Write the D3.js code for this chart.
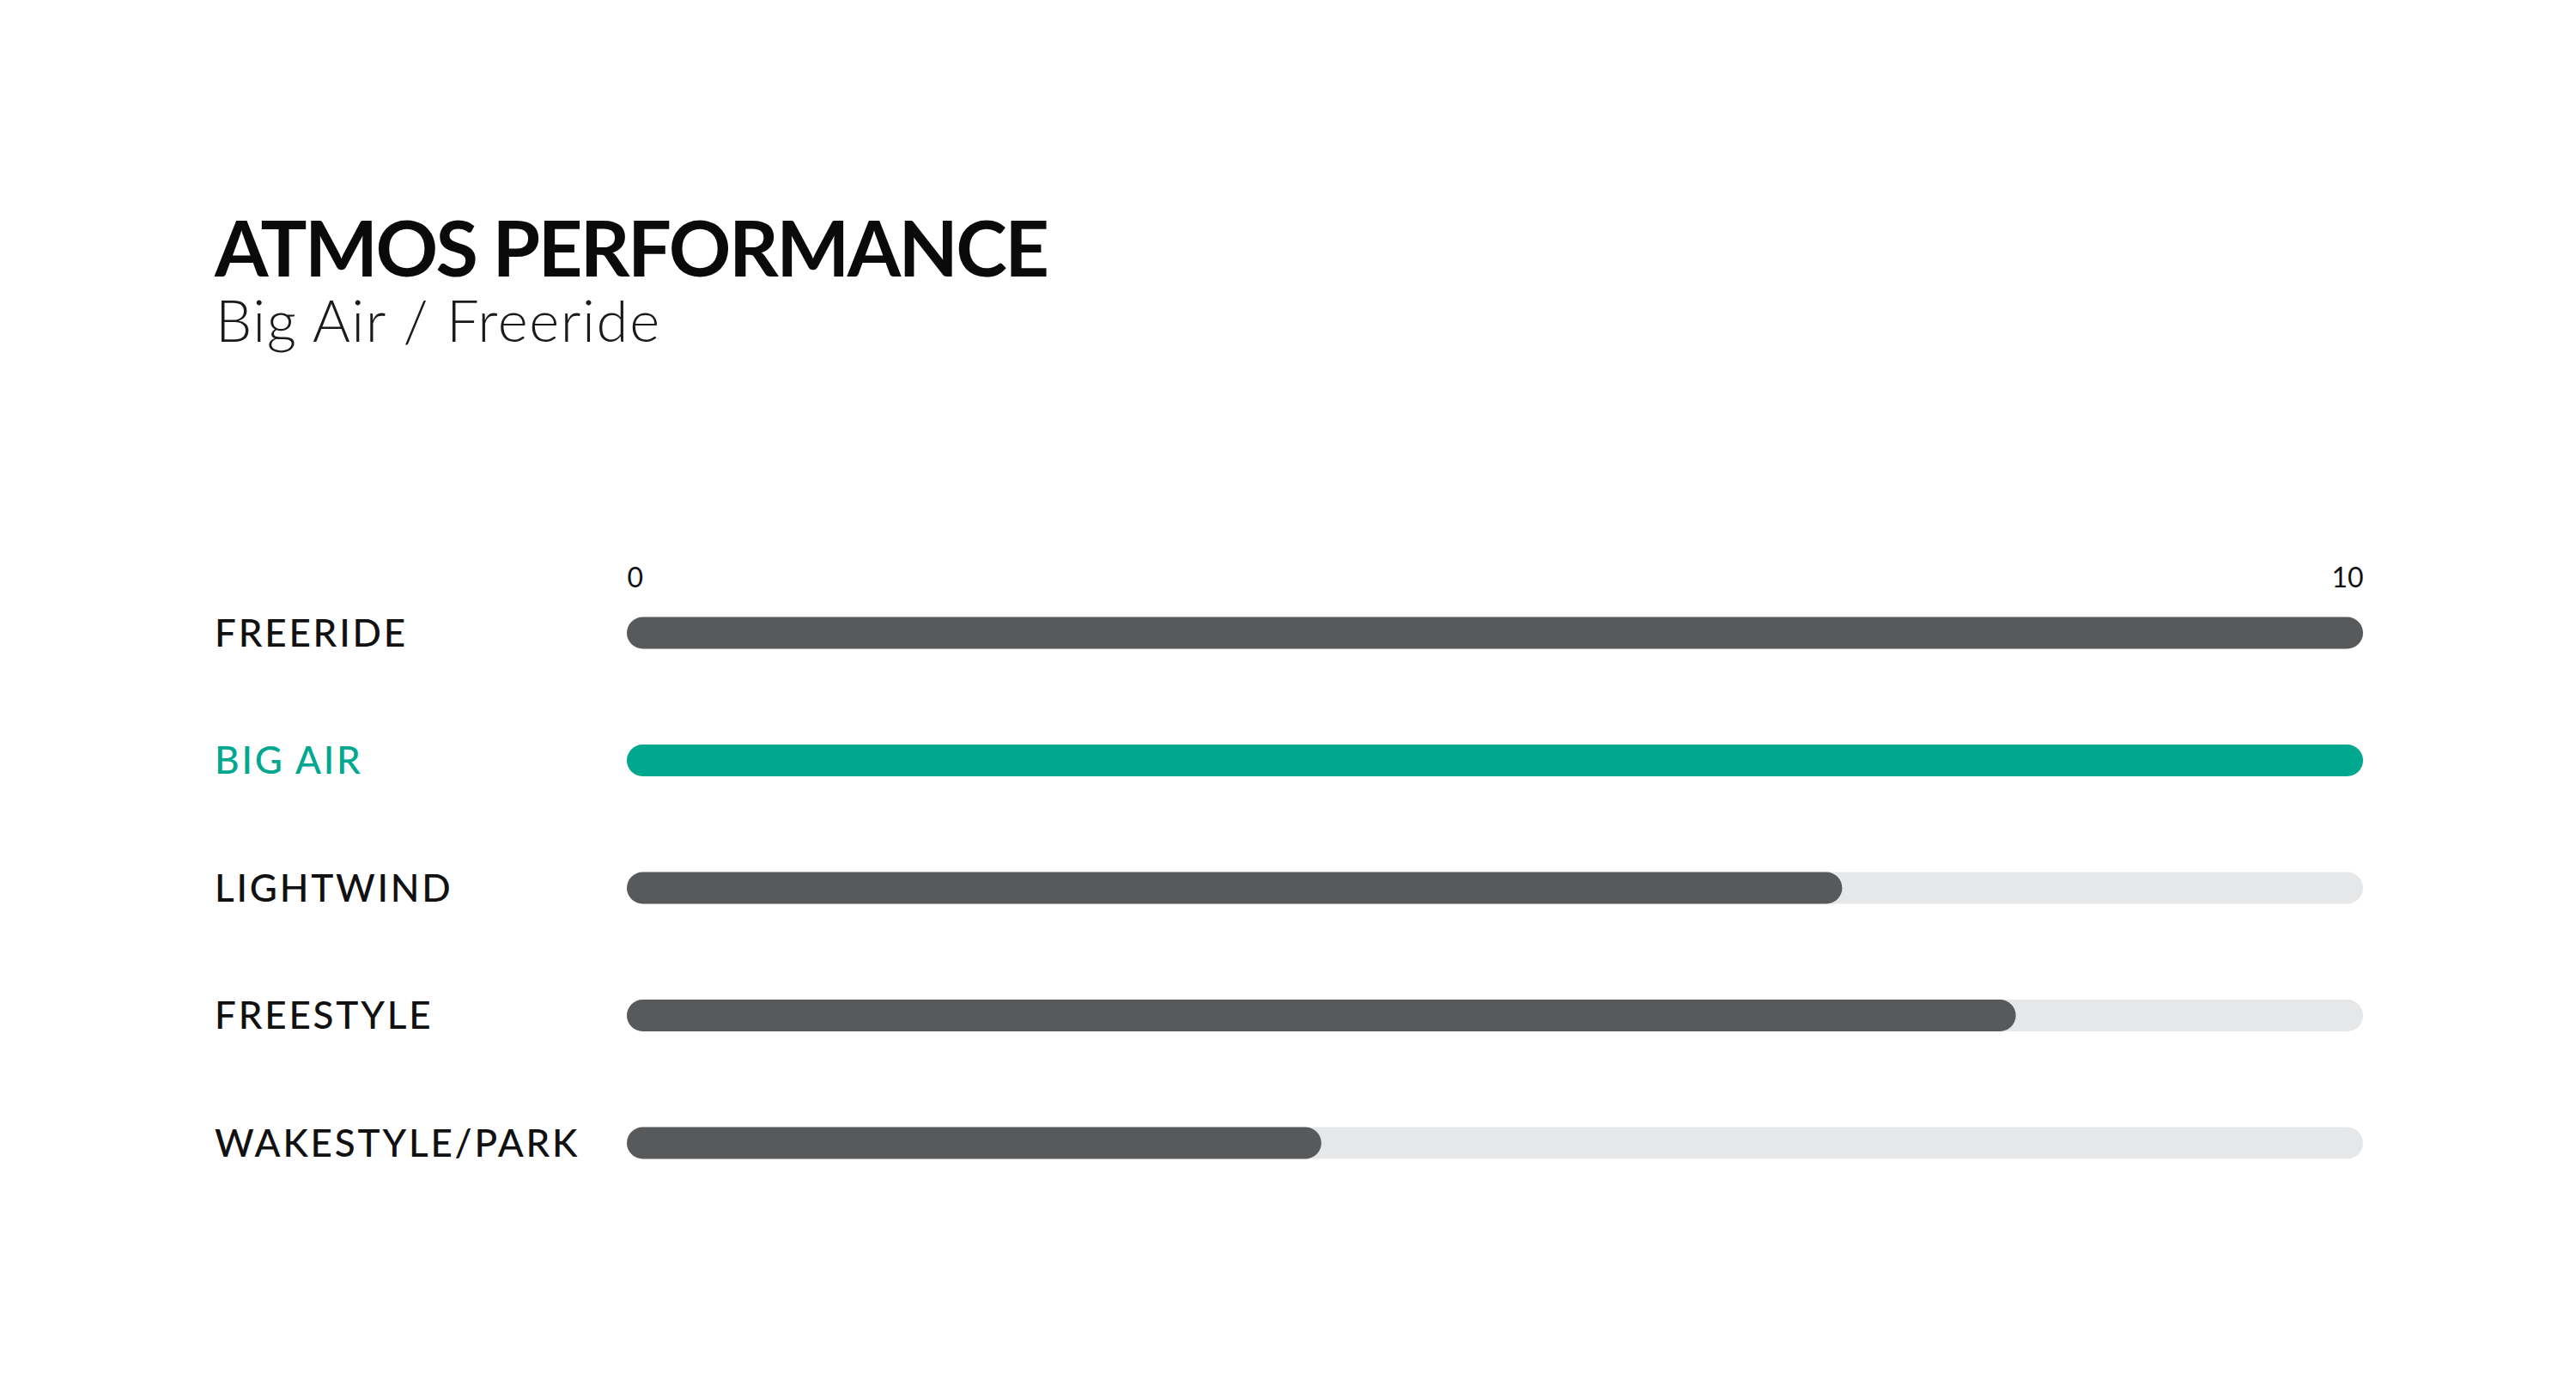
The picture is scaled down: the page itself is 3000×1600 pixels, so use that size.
<!DOCTYPE html>
<html><head><meta charset="utf-8">
<script src="https://cdn.jsdelivr.net/npm/d3@7"></script>
<style>
html,body{margin:0;padding:0;background:#fff;}
svg{display:block;}
</style></head>
<body>
<svg id="chart" width="3000" height="1600"></svg>
<script>
const title = "ATMOS PERFORMANCE";
const subtitle = "Big Air / Freeride";
const categories = ["FREERIDE", "BIG AIR", "LIGHTWIND", "FREESTYLE", "WAKESTYLE/PARK"];
const values = [10, 10, 7, 8, 4];
const highlight = ["BIG AIR"];
const domainMax = 10;
const tickValues = [0, 10];

const svg = d3.select("#chart");
const W = 3000, H = 1600;
svg.append("rect").attr("width", W).attr("height", H).attr("fill", "#fff");

const x = d3.scaleLinear().domain([0, domainMax]).range([730, 2752]);
const y = d3.scalePoint().domain(categories).range([737, 1331]);
const barH = 37;

svg.append("text").text(title)
  .attr("x", 250).attr("y", 322)
  .attr("font-family", "Lato, 'Noto Sans', sans-serif").attr("font-weight", 700)
  .attr("font-size", 90).attr("letter-spacing", -2.6).attr("fill", "#0a0a0a");

svg.append("text").text(subtitle)
  .attr("x", 251).attr("y", 398)
  .attr("font-family", "Lato, 'Noto Sans', sans-serif").attr("font-weight", 300)
  .attr("font-size", 67).attr("letter-spacing", 1.6).attr("fill", "#1a1a1a");

// axis tick labels
const axis = d3.axisTop(x).tickValues(tickValues).tickSize(0).tickPadding(0).tickFormat(d3.format("d"));
const ag = svg.append("g").attr("transform", "translate(0,684)").call(axis);
ag.select(".domain").remove();
ag.selectAll("text")
  .attr("font-family", "Lato, 'Noto Sans', sans-serif").attr("font-size", 32)
  .attr("fill", "#111").attr("dy", 0)
  .attr("text-anchor", (d, i) => i === 0 ? "start" : "end");

const rows = svg.append("g").selectAll("g").data(categories).join("g");
const cy = d => y(d);

rows.append("text").text(d => d)
  .attr("x", 250).attr("y", d => cy(d)).attr("dy", "0.36em")
  .attr("font-family", "Lato, 'Noto Sans', sans-serif").attr("font-weight", 500)
  .attr("font-size", 44).attr("letter-spacing", 2.8)
  .attr("fill", d => highlight.includes(d) ? "#00a88f" : "#111");

rows.append("rect")
  .attr("x", x(0)).attr("width", x(domainMax) - x(0))
  .attr("y", d => cy(d) - barH / 2).attr("height", barH)
  .attr("rx", barH / 2).attr("fill", "#e6e7e8");

rows.append("rect")
  .attr("x", x(0)).attr("width", (d, i) => x(values[i]) - x(0))
  .attr("y", d => cy(d) - barH / 2).attr("height", barH)
  .attr("rx", barH / 2)
  .attr("fill", d => highlight.includes(d) ? "#00a88f" : "#58595b");
</script>
</body></html>
